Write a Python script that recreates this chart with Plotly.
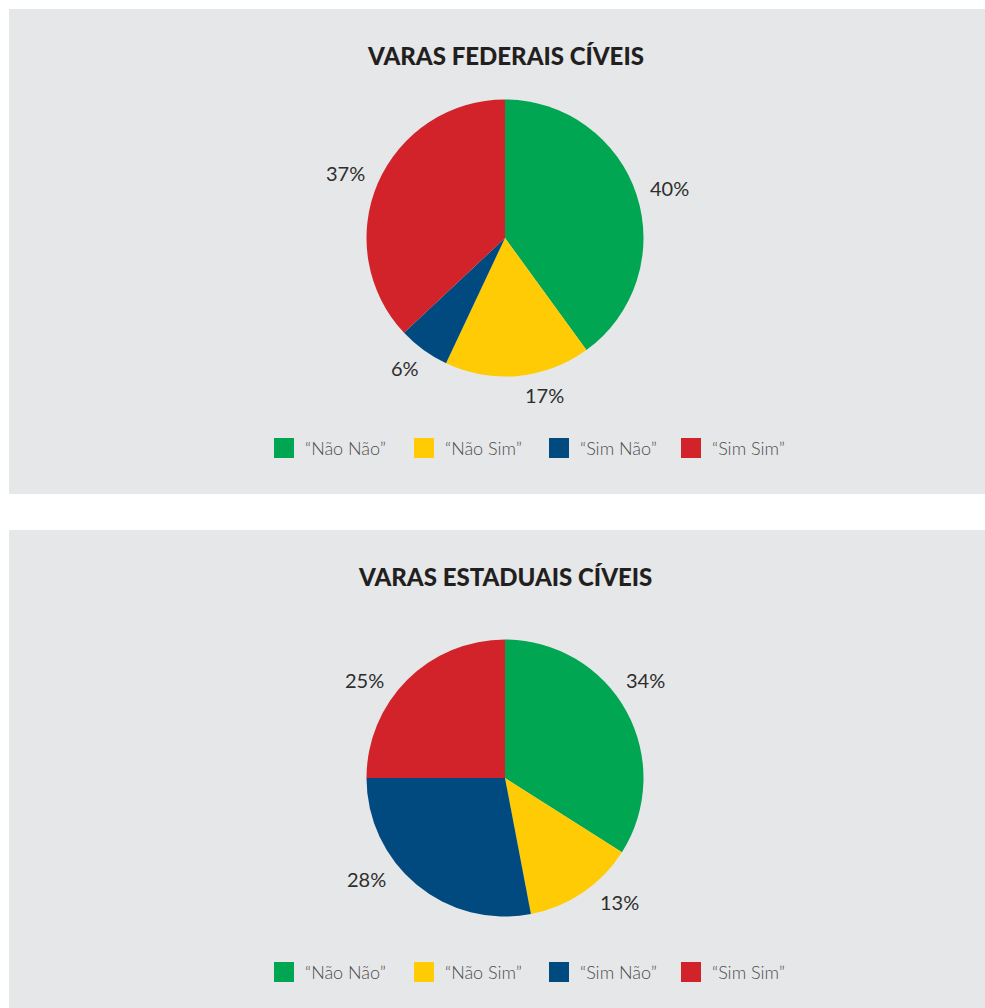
import math
import plotly.graph_objects as go

# ---- data ----
categories = ["“Não Não”", "“Não Sim”", "“Sim Não”", "“Sim Sim”"]
federais_values = [40, 17, 6, 37]
estaduais_values = [34, 13, 28, 25]
titles = ["VARAS FEDERAIS CÍVEIS", "VARAS ESTADUAIS CÍVEIS"]

# ---- style / layout ----
colors = ["#00a651", "#ffcb05", "#004a7f", "#d2232a"]
W, H = 985, 1008
PANEL_BG = "#e6e7e8"
# angular nudges (degrees) of each percent label from its slice's mid-angle
label_nudges = [[1.2, -8.6, 1.7, -1.1], [-6.3, -8.4, 14.3, -10.0]]


def px(x):
    return x / W


def py(y):
    return 1 - y / H


panels = [  # (top, bottom, title_y, pie_cy, legend_y)
    (9, 494, 55, 238, 448),
    (530, 1008, 576, 778, 972),
]
pie_cx = 505
pie_r = 138.5
legend_sq_x = [274, 414, 549, 681]
sq = 20

fig = go.Figure()
shapes = []
annotations = []
for i, (values, title, (top, bot, ty, cy, ly)) in enumerate(
        zip([federais_values, estaduais_values], titles, panels)):
    shapes.append(dict(type="rect", xref="paper", yref="paper",
                       x0=px(9), x1=1, y0=py(bot), y1=py(top),
                       fillcolor=PANEL_BG, line=dict(width=0), layer="below"))
    annotations.append(dict(text=title, xref="paper", yref="paper",
                            x=px(pie_cx), y=py(ty), xanchor="center", yanchor="middle",
                            showarrow=False,
                            font=dict(family="Lato", size=24, color="#231f20", weight=900)))
    fig.add_trace(go.Pie(
        labels=categories, values=values, sort=False, direction="clockwise",
        rotation=0, marker=dict(colors=colors, line=dict(width=0)),
        textinfo="none", hoverinfo="label+value", showlegend=False,
        domain=dict(x=[px(pie_cx - 200), px(pie_cx + 200)],
                    y=[py(cy + pie_r), py(cy - pie_r)]),
    ))
    # percent labels outside the slices (positions derived from the values)
    total = sum(values)
    cum = 0
    for v, nudge in zip(values, label_nudges[i]):
        mid = (cum + v / 2) / total * 360 + nudge
        cum += v
        txt = f"{v}%"
        hw = 7 * len(txt)
        th = math.radians(mid)
        s, c = math.sin(th), math.cos(th)
        R = pie_r + 12 + hw * abs(s) + 6 * abs(c)
        lx = pie_cx + R * s
        lyy = cy - R * c
        annotations.append(dict(text=txt, xref="paper", yref="paper",
                                x=px(lx), y=py(lyy), xanchor="center", yanchor="middle",
                                showarrow=False,
                                font=dict(family="Lato", size=20, color="#2e2e2e", weight=400)))
    for cat, col, sx in zip(categories, colors, legend_sq_x):
        shapes.append(dict(type="rect", xref="paper", yref="paper",
                           x0=px(sx), x1=px(sx + sq), y0=py(ly + sq / 2), y1=py(ly - sq / 2),
                           fillcolor=col, line=dict(width=0)))
        annotations.append(dict(text=cat, xref="paper", yref="paper",
                                x=px(sx + sq + 9), y=py(ly), xanchor="left", yanchor="middle",
                                showarrow=False,
                                font=dict(family="Lato", size=18, color="#4d4d4f", weight=300)))

fig.update_layout(
    width=W, height=H, margin=dict(l=0, r=0, t=0, b=0),
    paper_bgcolor="white", plot_bgcolor="white",
    shapes=shapes, annotations=annotations,
)

fig.write_html("out.html", config={"displayModeBar": False},
               post_script="document.body.style.margin='0';document.body.style.overflow='hidden';")
